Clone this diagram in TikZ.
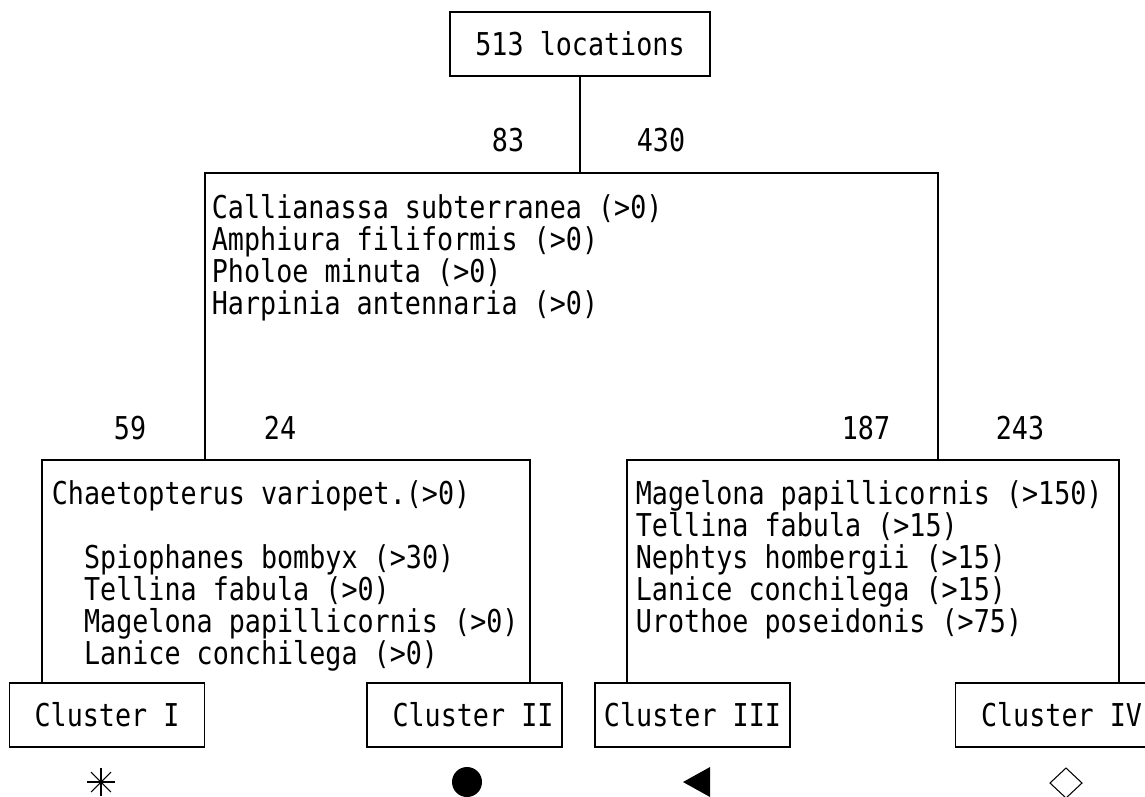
\documentclass[tikz,border=0pt]{standalone}
\usepackage{fontspec}
\newfontfamily\treefont[FakeStretch=0.85]{DejaVu Sans Mono}
\usetikzlibrary{positioning}

\begin{document}
\begin{tikzpicture}[
    x=0.02cm,y=-0.02cm,
    line width=1pt,
    every node/.style={font=\treefont\fontsize{17.9}{18.2}\selectfont},
    box/.style={draw,minimum width=5.2cm,minimum height=1.28cm,inner sep=0pt},
    clbox/.style={draw,minimum width=3.9cm,minimum height=1.28cm,inner sep=0pt},
    crit/.style={align=left,anchor=north west,inner sep=0pt},
    count/.style={inner sep=0pt}
  ]
    \useasboundingbox (0,0) rectangle (1145,796);
    \node[box] (root) at (580,44) {513 locations};
    \node[count] (n83) at (508,140) {83};
    \node[count] (n430) at (661,140) {430};
    \node[crit] (split1) at (211,193.5) {Callianassa subterranea (>0)\\
      Amphiura filiformis (>0)\\Pholoe minuta (>0)\\Harpinia antennaria (>0)};
    \node[count] (n59) at (130,428) {59};
    \node[count] (n24) at (280,428) {24};
    \node[count] (n187) at (866,428) {187};
    \node[count] (n243) at (1020,428) {243};
    \node[crit] (split2) at (51,479.5) {Chaetopterus variopet.(>0)\\[18.2pt]
      ~~Spiophanes bombyx (>30)\\~~Tellina fabula (>0)\\
      ~~Magelona papillicornis (>0)\\~~Lanice conchilega (>0)};
    \node[crit] (split3) at (635,479.5) {Magelona papillicornis (>150)\\
      Tellina fabula (>15)\\Nephtys hombergii (>15)\\
      Lanice conchilega (>15)\\Urothoe poseidonis (>75)};
    \node[clbox] (c1) at (107,715) {Cluster I};
    \node[clbox] (c2) at (464.5,715) {\hspace*{0.34cm}Cluster II};
    \node[clbox] (c3) at (692.5,715) {Cluster III};
    \node[clbox] (c4) at (1053,715) {\hspace*{0.34cm}Cluster IV};
    \coordinate (t1) at (205,173);
    \coordinate (t2) at (938,173);
    \coordinate (l1) at (42,460);
    \coordinate (l2) at (530,460);
    \coordinate (r1) at (627,460);
    \coordinate (r2) at (1119,460);
    \draw (root.south) -- (root.south |- t1);
    \draw (t1 |- l1) -- (t1) -- (t2) -- (t2 |- r1);
    \draw (c1.north -| l1) -- (l1) -- (l2) -- (c2.north -| l2);
    \draw (c3.north -| r1) -- (r1) -- (r2) -- (c4.north -| r2);
    \foreach \a in {0,45,90,135}
      \draw[line width=0.6pt,shift={(101,782)}] (\a:14) -- (\a+180:14);
    \fill (467,782) circle (15);
    \fill (683,782) -- (710,767) -- (710,797) -- cycle;
    \draw[line width=0.6pt] (1050,783) -- (1066,768) -- (1082,783) -- (1066,798) -- cycle;
  \end{tikzpicture}
\end{document}
